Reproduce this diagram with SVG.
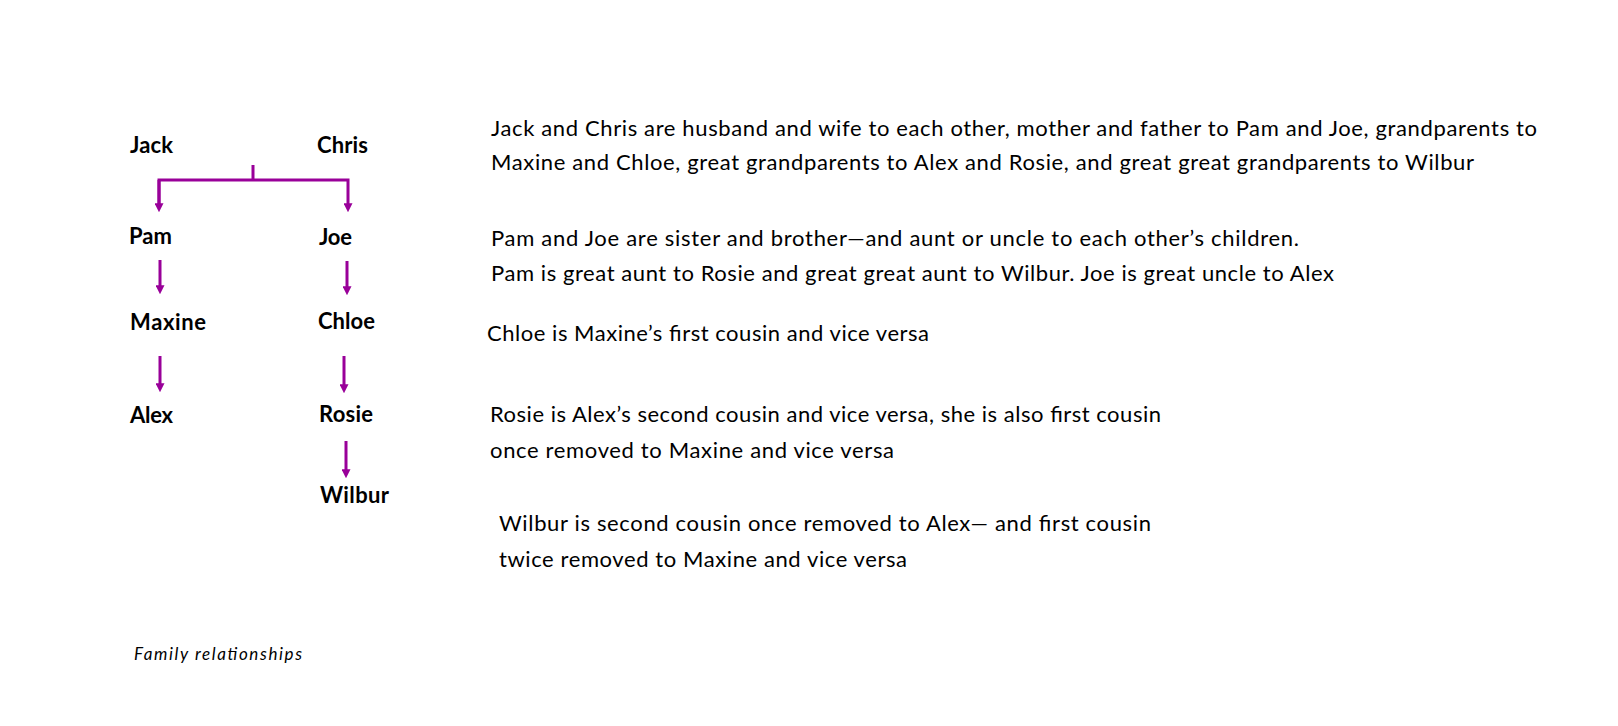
<svg xmlns="http://www.w3.org/2000/svg" width="1618" height="726" viewBox="0 0 1618 726">
<style>
.lbl{font-family:Lato,"Liberation Sans",sans-serif;font-weight:bold;font-size:22px;fill:#000}
.txt{font-family:Lato,"Liberation Sans",sans-serif;font-size:22px;fill:#000}
.cap{font-family:Lato,"Liberation Sans",sans-serif;font-style:italic;font-size:17px;fill:#000}
.con{fill:none;stroke:#990099;stroke-width:3;stroke-linejoin:miter}
</style>
<defs>
<marker id="ah" viewBox="0 0 10 10" refX="2" refY="5" markerWidth="9" markerHeight="9" markerUnits="userSpaceOnUse" orient="auto">
<path d="M0,0 L10,5 L0,10 z" fill="#990099"/>
</marker>
</defs>
<rect width="1618" height="726" fill="#fff"/>
<g id="connectors">
<path class="con" d="M253,165 V180"/>
<path class="con" d="M159,205 V180 H348 V205" marker-end="url(#ah)"/>
<path class="con" d="M159,180 V205" marker-end="url(#ah)"/>
<path class="con" d="M160,260 V287" marker-end="url(#ah)"/>
<path class="con" d="M347,261 V288" marker-end="url(#ah)"/>
<path class="con" d="M160,356 V385" marker-end="url(#ah)"/>
<path class="con" d="M344,356 V386" marker-end="url(#ah)"/>
<path class="con" d="M346,441 V471" marker-end="url(#ah)"/>
</g>
<g id="jack"><text class="lbl" x="130" y="153" textLength="43">Jack</text></g>
<g id="chris"><text class="lbl" x="317" y="153" textLength="51">Chris</text></g>
<g id="pam"><text class="lbl" x="129" y="244" textLength="43">Pam</text></g>
<g id="joe"><text class="lbl" x="319" y="245" textLength="33">Joe</text></g>
<g id="maxine"><text class="lbl" x="130" y="330" textLength="76">Maxine</text></g>
<g id="chloe"><text class="lbl" x="318" y="329" textLength="57">Chloe</text></g>
<g id="alex"><text class="lbl" x="130" y="423" textLength="43">Alex</text></g>
<g id="rosie"><text class="lbl" x="319" y="422" textLength="54">Rosie</text></g>
<g id="wilbur"><text class="lbl" x="320" y="503" textLength="69">Wilbur</text></g>
<g id="notes">
<text class="txt" x="491" y="136" textLength="1046">Jack and Chris are husband and wife to each other, mother and father to Pam and Joe, grandparents to</text>
<text class="txt" x="491" y="170" textLength="983">Maxine and Chloe, great grandparents to Alex and Rosie, and great great grandparents to Wilbur</text>
<text class="txt" x="491" y="246" textLength="808">Pam and Joe are sister and brother—and aunt or uncle to each other’s children.</text>
<text class="txt" x="491" y="281" textLength="843">Pam is great aunt to Rosie and great great aunt to Wilbur. Joe is great uncle to Alex</text>
<text class="txt" x="487" y="341" textLength="442">Chloe is Maxine’s first cousin and vice versa</text>
<text class="txt" x="490" y="422" textLength="671">Rosie is Alex’s second cousin and vice versa, she is also first cousin</text>
<text class="txt" x="490" y="458" textLength="404">once removed to Maxine and vice versa</text>
<text class="txt" x="499" y="531" textLength="652">Wilbur is second cousin once removed to Alex— and first cousin</text>
<text class="txt" x="499" y="567" textLength="408">twice removed to Maxine and vice versa</text>
</g>
<g id="caption"><text class="cap" x="134" y="660" textLength="168">Family relationships</text></g>
</svg>
